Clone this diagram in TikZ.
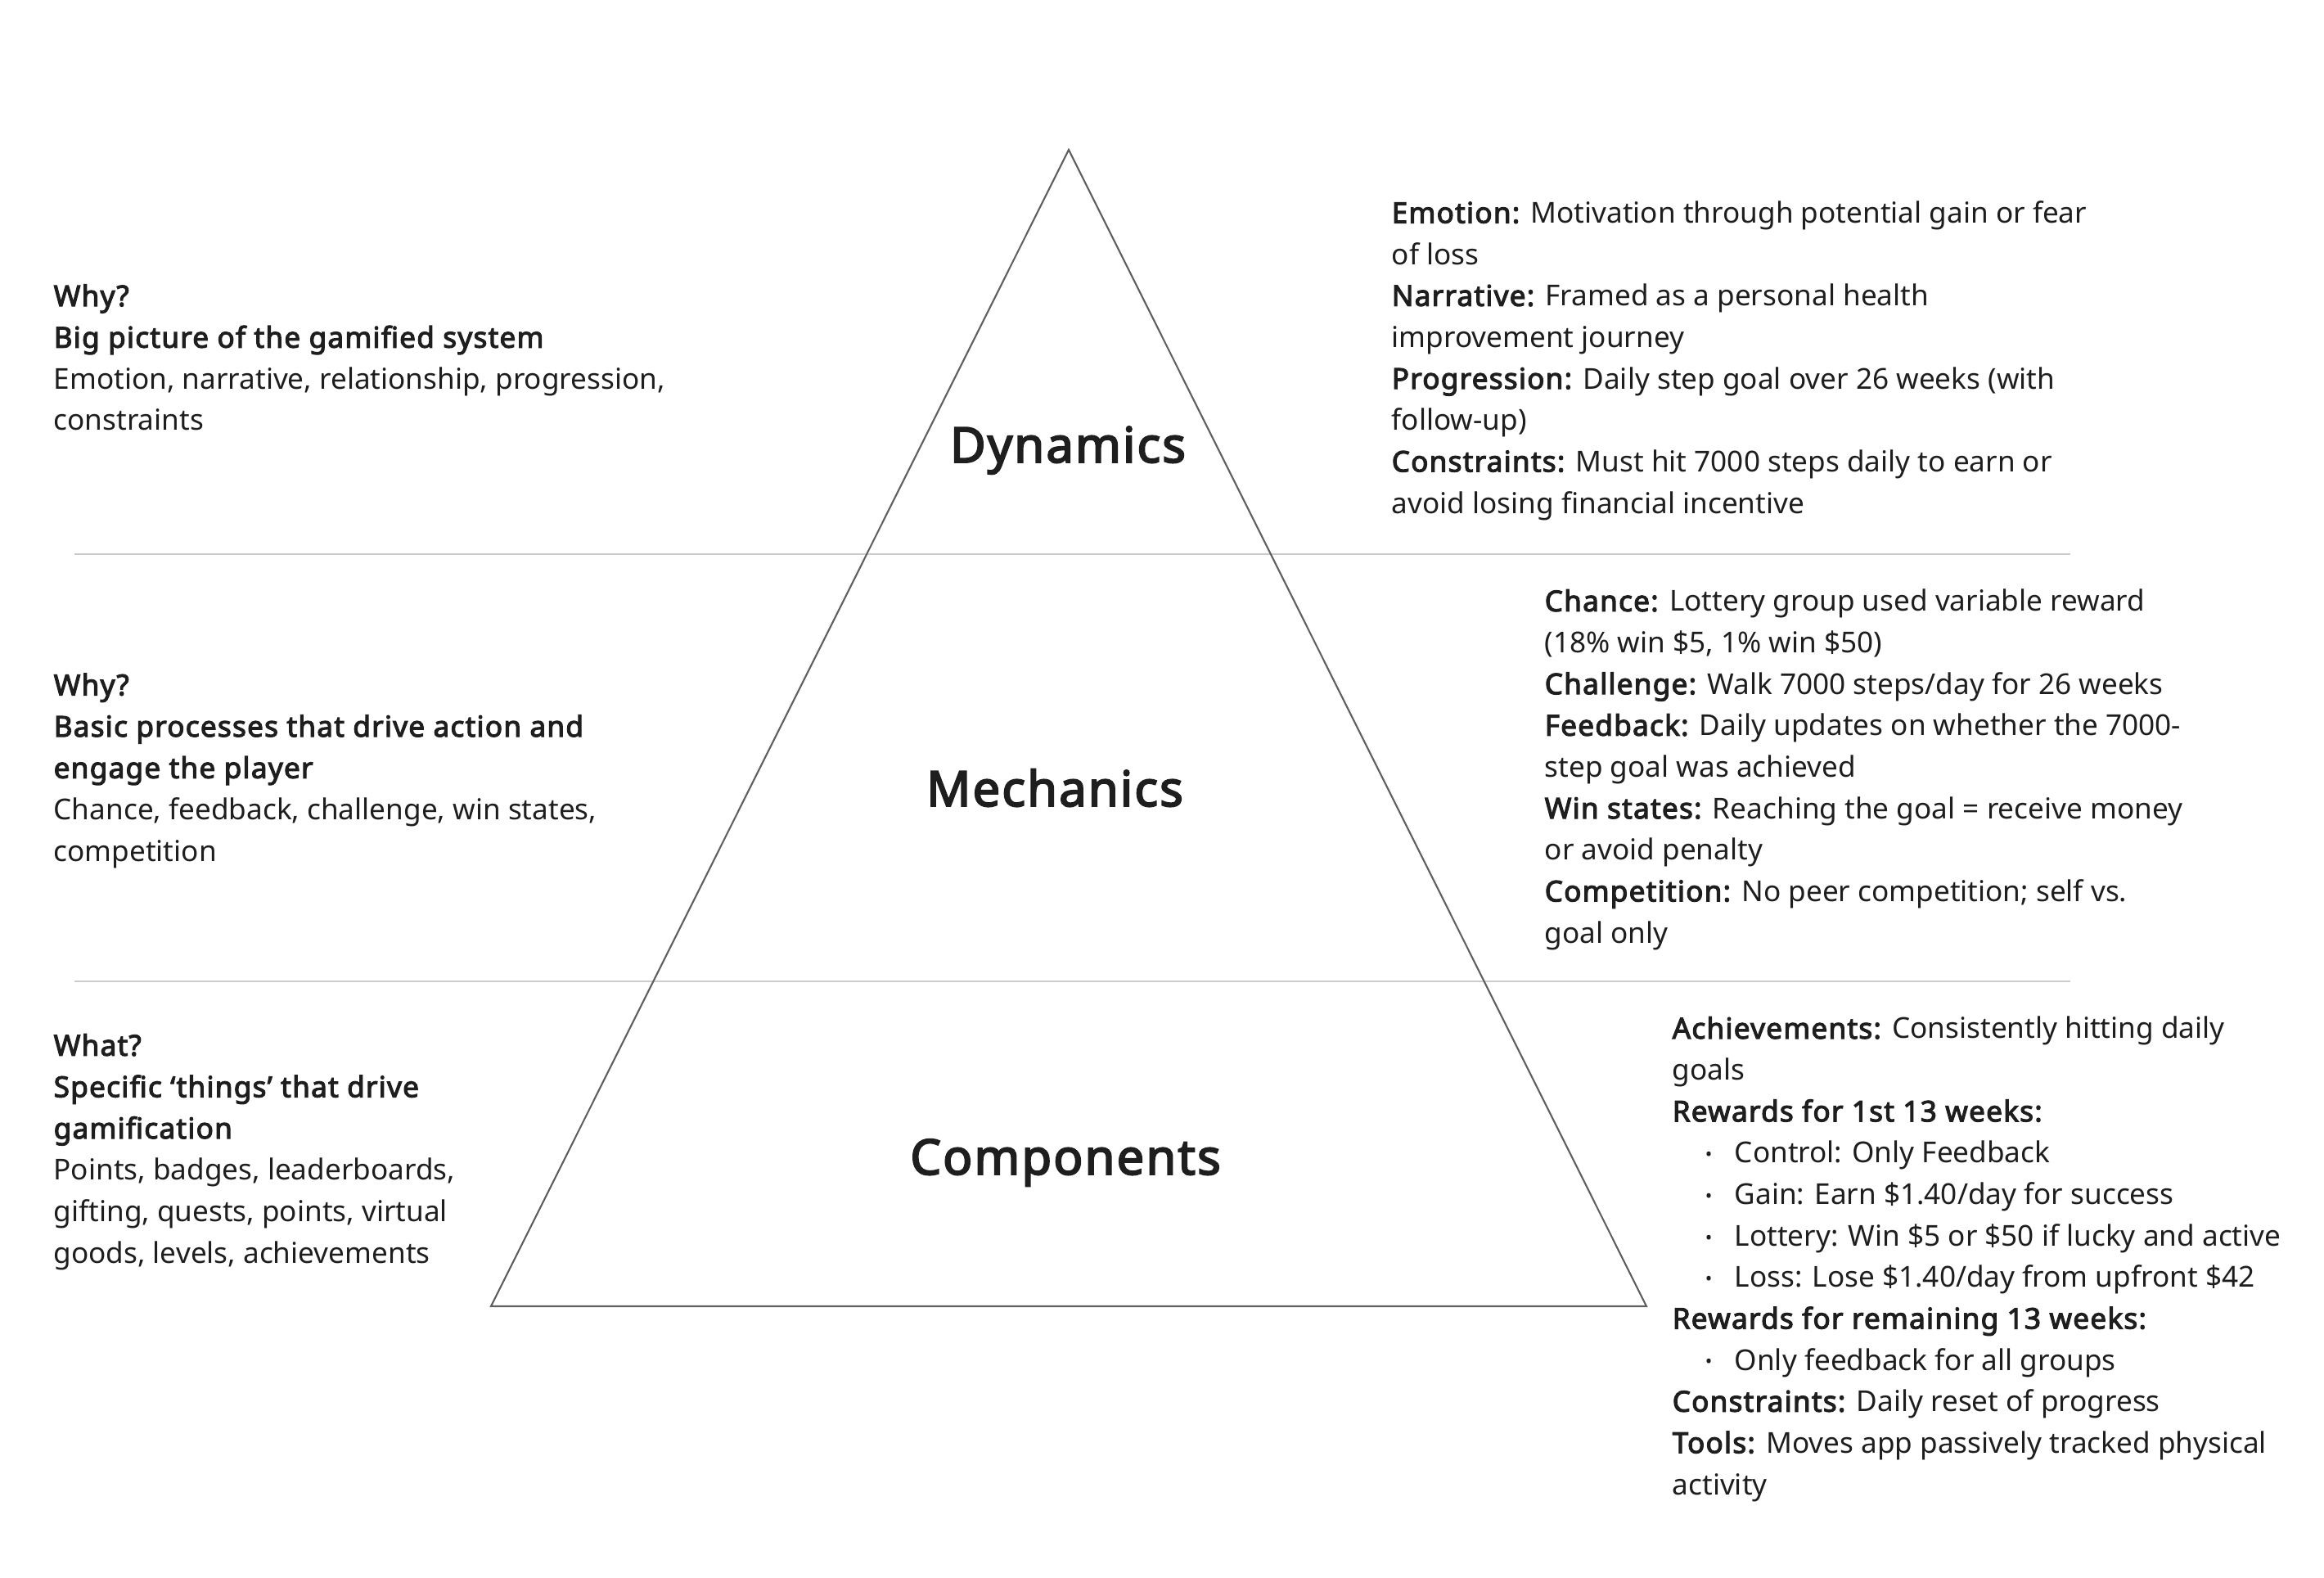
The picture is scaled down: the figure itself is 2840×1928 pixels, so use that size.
\documentclass[tikz,border=0pt]{standalone}
\usepackage{fontspec}
\setmainfont{Noto Sans}[BoldFont={Noto Sans}, BoldFeatures={FakeBold=3.2, LetterSpace=3.5}]
\definecolor{linegray}{RGB}{204,204,204}
\definecolor{edgegray}{RGB}{95,95,95}
\definecolor{inkgray}{RGB}{30,30,30}
\tikzset{
  body/.style={anchor=base west, align=left, inner sep=0pt, text=inkgray,
    font=\fontsize{10}{14.4}\selectfont},
  layer/.style={anchor=base, inner sep=0pt, text=inkgray,
    font=\fontsize{17}{20}\selectfont\bfseries},
}
\newcommand{\bul}[1]{\hspace*{0.4cm}\makebox[0.36cm][l]{\raisebox{0.6pt}{\fontsize{6.5}{6.5}\selectfont •}}#1}

\begin{document}
\begin{tikzpicture}[x=0.01cm,y=-0.01cm]
            \useasboundingbox (0,0) rectangle (2840,1928);
            \coordinate (apex) at (1306,183);
            \coordinate (bl) at (600,1596);
            \coordinate (br) at (2012,1596);
            \coordinate (s1w) at (91,677);
            \coordinate (s1e) at (2530,677);
            \coordinate (s2w) at (91,1199);
            \coordinate (s2e) at (2530,1199);
            \draw[linegray, line width=0.8pt] (s1w) -- (s1e);
            \draw[linegray, line width=0.8pt] (s2w) -- (s2e);
            \draw[edgegray, line width=0.6pt] (apex) -- (br) -- (bl) -- cycle;

            \node[layer] (dyn) at (1305,565) {Dynamics};
            \node[layer] (mech) at (1289,985) {Mechanics};
            \node[layer] (comp) at (1302,1435) {Components};

            %left side, placed by the last line
            \node[body] (whydyn) at (65,526) {\textbf{Why?}\\
                \textbf{Big picture of the gamified system}\\
                Emotion, narrative, relationship, progression,\\
                constraints};
            \node[body] (whymech) at (65,1052) {\textbf{Why?}\\
                \textbf{Basic processes that drive action and}\\
                \textbf{engage the player}\\
                Chance, feedback, challenge, win states,\\
                competition};
            \node[body] (whatcomp) at (65,1543) {\textbf{What?}\\
                \textbf{Specific ‘things’ that drive}\\
                \textbf{gamification}\\
                Points, badges, leaderboards,\\
                gifting, quests, points, virtual\\
                goods, levels, achievements};

            %right side
            \node[body] (dyntext) at (1700,627) {\textbf{Emotion:} Motivation through potential gain or fear\\
                of loss\\
                \textbf{Narrative:} Framed as a personal health\\
                improvement journey\\
                \textbf{Progression:} Daily step goal over 26 weeks (with\\
                follow-up)\\
                \textbf{Constraints:} Must hit 7000 steps daily to earn or\\
                avoid losing financial incentive};
            \node[body] (mechtext) at (1887,1152) {\textbf{Chance:} Lottery group used variable reward\\
                (18\% win \$5, 1\% win \$50)\\
                \textbf{Challenge:} Walk 7000 steps/day for 26 weeks\\
                \textbf{Feedback:} Daily updates on whether the 7000-\\
                step goal was achieved\\
                \textbf{Win states:} Reaching the goal = receive money\\
                or avoid penalty\\
                \textbf{Competition:} No peer competition; self vs.\\
                goal only};
            \node[body] (comptext) at (2043,1826) {\textbf{Achievements:} Consistently hitting daily\\
                goals\\
                \textbf{Rewards for 1st 13 weeks:}\\
                \bul{Control: Only Feedback}\\
                \bul{Gain: Earn \$1.40/day for success}\\
                \bul{Lottery: Win \$5 or \$50 if lucky and active}\\
                \bul{Loss: Lose \$1.40/day from upfront \$42}\\
                \textbf{Rewards for remaining 13 weeks:}\\
                \bul{Only feedback for all groups}\\
                \textbf{Constraints:} Daily reset of progress\\
                \textbf{Tools:} Moves app passively tracked physical\\
                activity};

        \end{tikzpicture}
\end{document}
